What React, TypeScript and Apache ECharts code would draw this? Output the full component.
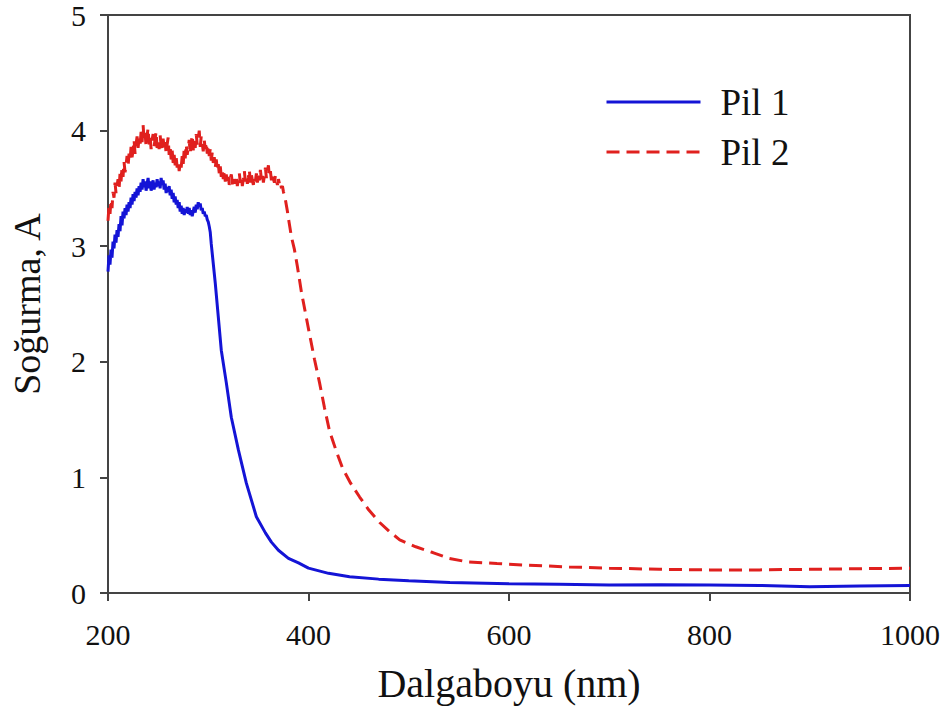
import React, { useEffect, useRef } from "react";
import * as echarts from "echarts";

const seriesNames = ["Pil 1", "Pil 2"];

const pil1Wavelength = [
  200, 201, 202, 203, 204, 205, 206, 207, 208, 209,
  210, 211, 212, 213, 214, 215, 216, 217, 218, 219,
  220, 221, 222, 223, 224, 225, 226, 227, 228, 229,
  230, 231, 232, 233, 234, 235, 236, 237, 238, 239,
  240, 241, 242, 243, 244, 245, 246, 247, 248, 249,
  250, 251, 252, 253, 254, 255, 256, 257, 258, 259,
  260, 261, 262, 263, 264, 265, 266, 267, 268, 269,
  270, 271, 272, 273, 274, 275, 276, 277, 278, 279,
  280, 281, 282, 283, 284, 285, 286, 287, 288, 289,
  290, 291, 292, 293, 294, 295, 296, 297, 298, 299,
  300, 301, 302, 303,
  307, 310, 313, 318, 323, 330, 338, 348, 357, 363, 370, 380, 390, 400, 420, 441, 470, 500, 541,
  600, 650, 700, 750, 800, 850, 900, 950, 1000,
];
const pil1Absorbance = [
  2.78, 2.92, 2.84, 2.97, 2.9, 3.04, 2.98, 3.1, 3.03, 3.14,
  3.08, 3.19, 3.13, 3.26, 3.18, 3.3, 3.24, 3.33, 3.27, 3.36,
  3.3, 3.38, 3.33, 3.42, 3.36, 3.45, 3.39, 3.47, 3.42, 3.5,
  3.44, 3.52, 3.47, 3.55, 3.49, 3.58, 3.51, 3.56, 3.48, 3.54,
  3.59, 3.5, 3.56, 3.48, 3.53, 3.57, 3.49, 3.55, 3.51, 3.58,
  3.52, 3.56, 3.5, 3.59, 3.53, 3.57, 3.49, 3.54, 3.46, 3.51,
  3.47, 3.52, 3.44, 3.49, 3.41, 3.46, 3.38, 3.43, 3.36, 3.4,
  3.33, 3.38, 3.3, 3.35, 3.28, 3.33, 3.27, 3.32, 3.29, 3.34,
  3.28, 3.33, 3.27, 3.31, 3.26, 3.3, 3.34, 3.29, 3.36, 3.32,
  3.38, 3.34, 3.37, 3.31, 3.33, 3.28, 3.3, 3.26, 3.27, 3.23,
  3.21, 3.17, 3.12, 3.02,
  2.68, 2.39, 2.1, 1.82, 1.52, 1.24, 0.95, 0.66, 0.52, 0.44, 0.37, 0.3, 0.26, 0.215, 0.17, 0.14, 0.12, 0.105, 0.09,
  0.08, 0.075, 0.07, 0.072, 0.07, 0.065, 0.055, 0.06, 0.065,
];

const pil2Wavelength = [
  200, 201, 202, 203, 204, 205, 206, 207, 208, 209,
  210, 211, 212, 213, 214, 215, 216, 217, 218, 219,
  220, 221, 222, 223, 224, 225, 226, 227, 228, 229,
  230, 231, 232, 233, 234, 235, 236, 237, 238, 239,
  240, 241, 242, 243, 244, 245, 246, 247, 248, 249,
  250, 251, 252, 253, 254, 255, 256, 257, 258, 259,
  260, 261, 262, 263, 264, 265, 266, 267, 268, 269,
  270, 271, 272, 273, 274, 275, 276, 277, 278, 279,
  280, 281, 282, 283, 284, 285, 286, 287, 288, 289,
  290, 291, 292, 293, 294, 295, 296, 297, 298, 299,
  300, 301, 302, 303, 304, 305, 306, 307, 308, 309,
  310, 311, 312, 313, 314, 315, 316, 317, 318, 319,
  320, 321, 322, 323, 324, 325, 326, 327, 328, 329,
  330, 331, 332, 333, 334, 335, 336, 337, 338, 339,
  340, 341, 342, 343, 344, 345, 346, 347, 348, 349,
  350, 351, 352, 353, 354, 355, 356, 357, 358, 359,
  360, 361, 362, 363, 364, 365, 366, 367, 368, 369,
  370, 371, 372, 373, 374, 375, 376, 377, 378, 379,
  380, 383, 386, 389, 393, 397, 401, 406, 411, 416, 421, 428, 434, 442, 451, 460, 471, 481, 491, 507, 524,
  540, 558, 588, 620, 660, 700, 750, 800, 850, 900, 950, 1000,
];
const pil2Absorbance = [
  3.22, 3.35, 3.28, 3.4, 3.33, 3.47, 3.42, 3.55, 3.46, 3.52,
  3.58, 3.49, 3.63, 3.56, 3.68, 3.6, 3.73, 3.64, 3.7, 3.78,
  3.69, 3.8, 3.74, 3.86, 3.77, 3.83, 3.92, 3.8, 3.88, 3.95,
  3.85, 3.93, 3.87, 3.99, 3.9, 4.05, 3.92, 3.98, 3.86, 3.96,
  4.02, 3.88, 3.95, 3.84, 3.92, 3.97, 3.86, 3.93, 3.99, 3.85,
  3.91, 3.84, 3.96, 3.87, 3.82, 3.93, 3.85, 3.9, 3.8, 3.88,
  3.94, 3.79, 3.86, 3.75, 3.83, 3.72, 3.79, 3.7, 3.77, 3.68,
  3.74, 3.65, 3.72, 3.68, 3.78, 3.71, 3.84, 3.76, 3.88, 3.79,
  3.85, 3.92, 3.8, 3.89, 3.96, 3.83, 3.91, 3.85, 3.97, 3.88,
  3.93, 4.0, 3.86, 3.95, 3.89, 3.82, 3.92, 3.84, 3.9, 3.8,
  3.87, 3.78, 3.84, 3.74, 3.81, 3.72, 3.77, 3.68, 3.75, 3.66,
  3.71, 3.63, 3.69, 3.6, 3.66, 3.58, 3.64, 3.56, 3.62, 3.55,
  3.6, 3.53, 3.59, 3.62, 3.55, 3.51, 3.58, 3.54, 3.61, 3.52,
  3.57, 3.63, 3.55, 3.6, 3.52, 3.58, 3.65, 3.56, 3.61, 3.54,
  3.59, 3.66, 3.55, 3.62, 3.57, 3.53, 3.6, 3.56, 3.63, 3.55,
  3.61, 3.57, 3.66, 3.58, 3.63, 3.55, 3.61, 3.68, 3.59, 3.64,
  3.7, 3.6, 3.65, 3.57, 3.62, 3.58, 3.55, 3.61, 3.57, 3.53,
  3.58, 3.54, 3.56, 3.5, 3.52, 3.47, 3.44, 3.4, 3.35, 3.3,
  3.24, 3.08, 2.97, 2.82, 2.6, 2.42, 2.24, 2.02, 1.82, 1.6, 1.4, 1.22, 1.08, 0.95, 0.83, 0.72, 0.61, 0.53, 0.46, 0.4, 0.35,
  0.3, 0.27, 0.255, 0.24, 0.225, 0.215, 0.205, 0.2, 0.2, 0.205, 0.21, 0.215,
];

const xTitle = "Dalgaboyu (nm)";
const yTitle = "Soğurma, A";

const FONT = "Liberation Serif";
const AXIS_COLOR = "#444";
const BLUE = "#1414d6";
const RED = "#e0201e";

export default function App() {
  const ref = useRef<HTMLDivElement>(null);

  useEffect(() => {
    if (!ref.current) return;
    const chart = echarts.init(ref.current, null, { renderer: "svg" });
    const pil1Data = pil1Wavelength.map((w, i) => [w, pil1Absorbance[i]]);
    const pil2Data = pil2Wavelength.map((w, i) => [w, pil2Absorbance[i]]);

    chart.setOption({
      animation: false,
      backgroundColor: "#fff",
      grid: {
        left: 108,
        right: 36,
        top: 15,
        bottom: 131,
        containLabel: false,
        outerBoundsMode: "none",
        show: true,
        borderColor: AXIS_COLOR,
        borderWidth: 2,
        backgroundColor: "transparent",
      },
      legend: {
        orient: "vertical",
        left: 600,
        top: 78,
        itemWidth: 94,
        itemHeight: 14,
        itemGap: 12,
        data: seriesNames,
        itemStyle: { opacity: 0 },
        lineStyle: { width: 3 },
        textStyle: {
          fontFamily: FONT,
          fontSize: 37,
          lineHeight: 38,
          color: "#111",
          padding: [0, 0, 0, 15],
        },
      },
      xAxis: {
        type: "value",
        min: 200,
        max: 1000,
        interval: 200,
        name: xTitle,
        nameLocation: "middle",
        nameGap: 70,
        nameTextStyle: { fontFamily: FONT, fontSize: 40, color: "#111" },
        axisLine: { onZero: false, lineStyle: { color: AXIS_COLOR, width: 2 } },
        axisTick: { show: true, inside: false, length: 8, lineStyle: { color: AXIS_COLOR, width: 2 } },
        axisLabel: {
          fontFamily: FONT,
          fontSize: 30,
          color: "#111",
          margin: 26,
          formatter: (v: number) => String(v),
        },
        splitLine: { show: false },
      },
      yAxis: {
        type: "value",
        min: 0,
        max: 5,
        interval: 1,
        name: yTitle,
        nameLocation: "middle",
        nameGap: 62,
        nameTextStyle: { fontFamily: FONT, fontSize: 38, color: "#111" },
        axisLine: { show: true, lineStyle: { color: AXIS_COLOR, width: 2 } },
        axisTick: { show: true, inside: false, length: 8, lineStyle: { color: AXIS_COLOR, width: 2 } },
        axisLabel: { fontFamily: FONT, fontSize: 30, color: "#111", margin: 22 },
        splitLine: { show: false },
      },
      series: [
        {
          name: seriesNames[0],
          type: "line",
          data: pil1Data,
          showSymbol: false,
          symbol: "none",
          lineStyle: { color: BLUE, width: 3 },
          itemStyle: { color: BLUE },
          z: 3,
        },
        {
          name: seriesNames[1],
          type: "line",
          data: pil2Data,
          showSymbol: false,
          symbol: "none",
          lineStyle: { color: RED, width: 3, type: [13, 7] },
          itemStyle: { color: RED },
          z: 2,
        },
      ],
    });

    return () => chart.dispose();
  }, []);

  return (
    <div
      ref={ref}
      style={{ position: "absolute", left: 0, top: 0, width: 946, height: 724 }}
    />
  );
}
